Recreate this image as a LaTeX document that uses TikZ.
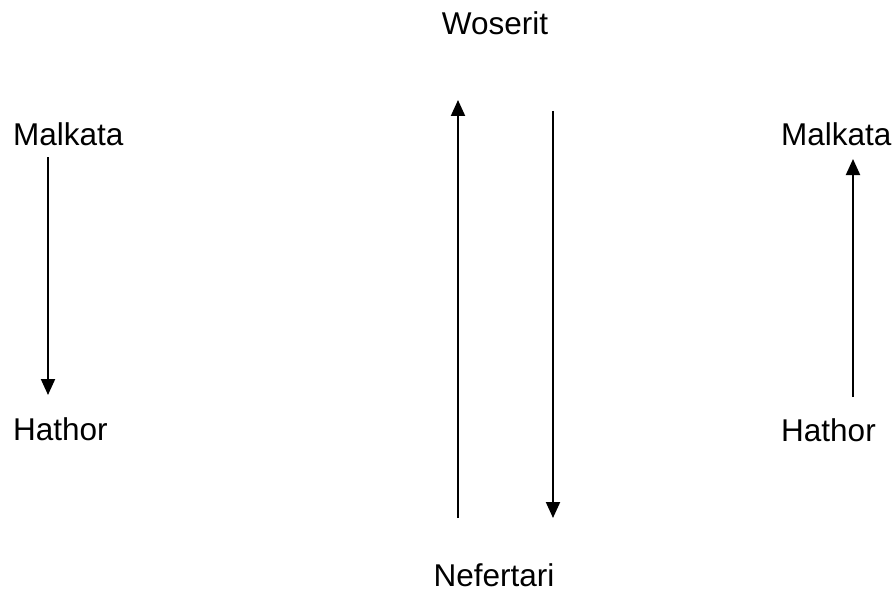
\documentclass[tikz,border=0pt]{standalone}
\usepackage{fontspec}
\setmainfont{Liberation Sans}
\usepackage{tikz}
\usetikzlibrary{arrows.meta,positioning}

\begin{document}
\begin{tikzpicture}[
  x=1pt, y=-1pt,
  font=\fontsize{31.5}{37}\selectfont,
  place/.style={inner sep=0pt},
  arr/.style={-{Triangle[width=14pt,length=16pt]}, line width=2pt}
]
\useasboundingbox (0,0) rectangle (896,591);

% labels
\node[place, anchor=base] (woserit) at (495,35) {Woserit};
\node[place, anchor=base] (nefertari) at (494,586) {Nefertari};
\node[place, anchor=base west] (malkataL) at (13,146) {Malkata};
\node[place, anchor=base west] (hathorL) at (13,440) {Hathor};
\node[place, anchor=base west] (malkataR) at (781,145) {Malkata};
\node[place, anchor=base west] (hathorR) at (781,441) {Hathor};

% arrow ends
\coordinate (lTop) at (48,157);
\coordinate (lBot) at (48,395);
\coordinate (mlTop) at (458,100);
\coordinate (mlBot) at (458,518);
\coordinate (mrTop) at (553,111);
\coordinate (mrBot) at (553,518);
\coordinate (rTop) at (853,159);
\coordinate (rBot) at (853,397);

\draw[arr] (lTop) -- (lBot);
\draw[arr] (mlBot) -- (mlTop);
\draw[arr] (mrTop) -- (mrBot);
\draw[arr] (rBot) -- (rTop);

\end{tikzpicture}
\end{document}
